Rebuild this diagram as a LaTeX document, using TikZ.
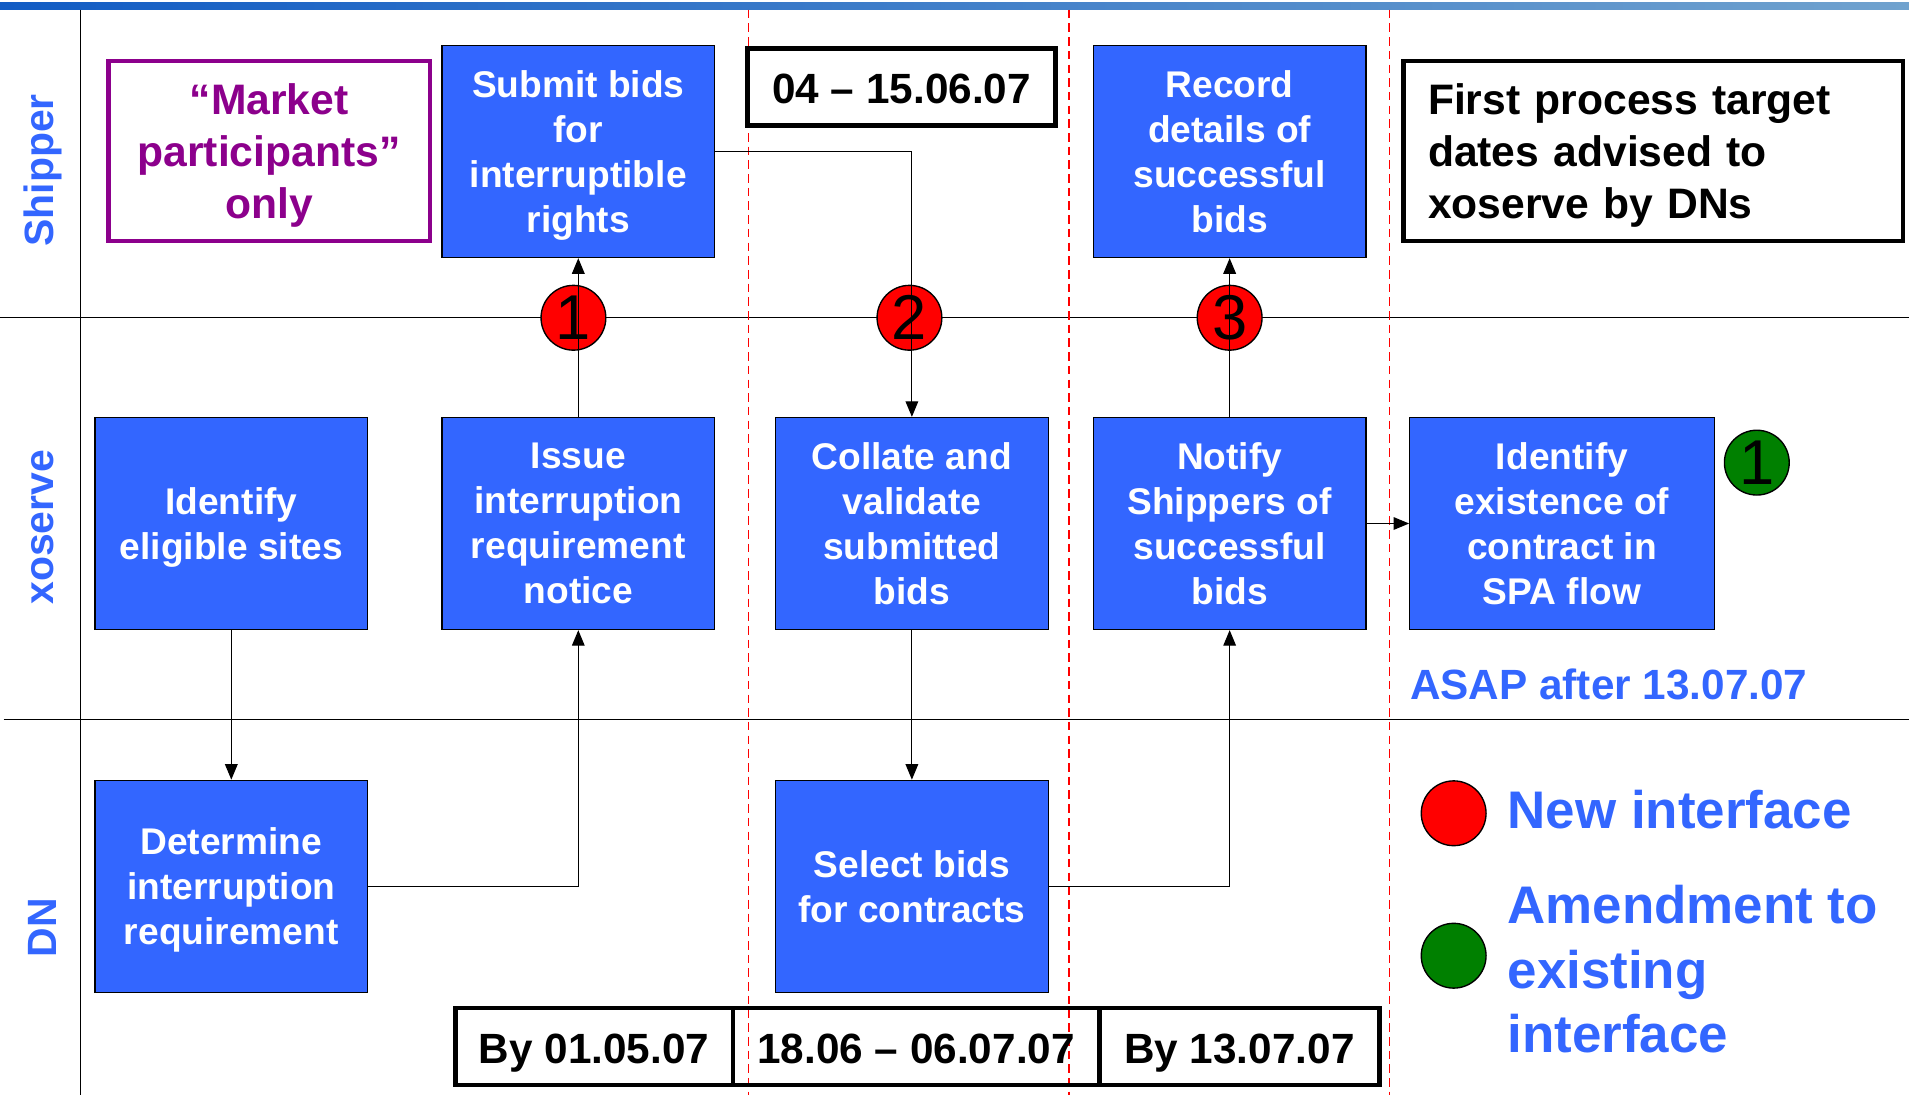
\documentclass[tikz,border=0pt]{standalone}
\usepackage{fontspec}
\setmainfont{Liberation Sans}
\usetikzlibrary{arrows.meta,positioning,calc}
\definecolor{taskblue}{RGB}{51,102,255}
\definecolor{mppurple}{RGB}{140,0,140}
\definecolor{ifgreen}{RGB}{0,128,0}
\definecolor{bandleft}{RGB}{18,92,196}
\definecolor{bandright}{RGB}{112,162,206}
\newcommand{\taskfont}{\fontsize{21.7}{26.3}\selectfont\bfseries}
\newcommand{\datefont}{\fontsize{24.7}{30}\selectfont\bfseries}
\newcommand{\notefont}{\fontsize{24.9}{30.2}\selectfont\bfseries}
\newcommand{\lanefont}{\fontsize{23.9}{28}\selectfont\bfseries}
\newcommand{\legfont}{\fontsize{30.9}{37.7}\selectfont\bfseries}
\newcommand{\numfont}{\fontsize{37}{40}\selectfont}
\begin{document}
\begin{tikzpicture}[x=0.025cm,y=-0.025cm,
	task/.style={draw,line width=0.8pt,fill=taskblue,text=white,font=\taskfont,minimum width=5.6cm,minimum height=4.35cm,align=center,inner sep=2pt,text depth=0pt},
	datebox/.style={draw,line width=2.6pt,font=\datefont,minimum height=1.575cm,inner sep=0pt,text height=19.8pt,text depth=0pt},
	iface/.style={circle,draw,line width=0.8pt,minimum size=1.33cm,inner sep=0pt,font=\numfont},
	flow/.style={line width=0.7pt,-{Triangle[length=0.32cm,width=0.26cm]}},
	lanelbl/.style={rotate=90,text=taskblue,font=\lanefont},
	period/.style={red,line width=0.7pt,dash pattern=on 5pt off 3pt}]
	\useasboundingbox (0,0) rectangle (1568,899);
	% lanes
	\shade[left color=bandleft,right color=bandright] (0,2) rectangle (1568,8);
	\draw[line width=0.8pt] (66,8) -- (66,899) (0,261) -- (1568,261) (3,591) -- (1568,591);
	\node[lanelbl] (shipper) at (35,140) {Shipper};
	\node[lanelbl] (xoserve) at (35,433) {xoserve};
	\node[lanelbl] (dn) at (35,762) {DN};
	\foreach \x in {615,878,1141}
		\draw[period] (\x,8) -- (\x,899);
	% tasks
	\node[task] (submit) at (475,124.5) {Submit bids\\for\\interruptible\\rights};
	\node[task] (record) at (1010,124.5) {Record\\details of\\successful\\bids};
	\node[task] (eligible) at (190,430) {Identify\\eligible sites};
	\node[task] (issue) at (475,430) {Issue\\interruption\\requirement\\notice};
	\node[task] (collate) at (749,430) {Collate and\\validate\\submitted\\bids};
	\node[task] (notify) at (1010,430) {Notify\\Shippers of\\successful\\bids};
	\node[task,minimum width=6.25cm] (existence) at (1283,430) {Identify\\existence of\\contract in\\SPA flow};
	\node[task] (determine) at (190,728) {Determine\\interruption\\requirement};
	\node[task] (select) at (749,728) {Select bids\\for contracts};
	% notes and dates
	\node[draw=mppurple,line width=2.6pt,text=mppurple,font=\notefont,minimum width=6.6cm,minimum height=3.7cm,align=center,text depth=0pt] (market) at (221,124) {“Market\\participants”\\only};
	\node[draw,line width=2.6pt,font=\notefont,text width=9.25cm,inner xsep=0.5cm,minimum height=3.7cm,align=left,text depth=60.4pt] (target) at (1358,124) {First process target\\dates advised to\\xoserve by DNs};
	\node[datebox,minimum width=6.325cm] (bidwin) at (740.5,71.5) {04 – 15.06.07};
	\node[datebox,minimum width=5.7cm] (by0105) at (488,859.5) {By 01.05.07};
	\node[datebox,minimum width=7.525cm] (selwin) at (752.5,859.5) {18.06 – 06.07.07};
	\node[datebox,minimum width=5.75cm] (by1307) at (1018,859.5) {By 13.07.07};
	\node[anchor=west,inner sep=0pt,text=taskblue,font=\datefont] (asap) at (1158,562) {ASAP after 13.07.07};
	% interfaces
	\node[iface,fill=red] (new1) at (471,261) {1};
	\node[iface,fill=red] (new2) at (747,261) {2};
	\node[iface,fill=red] (new3) at (1010,261) {3};
	\node[iface,fill=ifgreen] (amend1) at (1443,380) {1};
	\node[iface,fill=red] (newkey) at (1194,668) {};
	\node[iface,fill=ifgreen] (amendkey) at (1194,785) {};
	\node[anchor=west,inner sep=0pt,text=taskblue,font=\legfont] (newtxt) at (1238,665) {New interface};
	\node[anchor=west,inner sep=0pt,text=taskblue,font=\legfont,align=left] (amendtxt) at (1238,796) {Amendment to\\existing\\interface};
	% flows
	\draw[flow] (eligible) -- (determine);
	\draw[flow] (determine.east) -| (issue.south);
	\draw[flow] (issue) -- (submit);
	\draw[flow] (submit.east) -| (collate.north);
	\draw[flow] (collate) -- (select);
	\draw[flow] (select.east) -| (notify.south);
	\draw[flow] (notify) -- (record);
	\draw[flow] (notify) -- (existence);
\end{tikzpicture}
\end{document}
